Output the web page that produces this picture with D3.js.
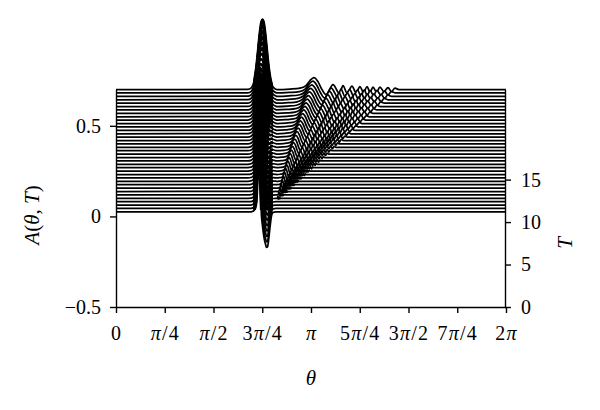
<!DOCTYPE html>
<html>
<head>
<meta charset="utf-8">
<script src="https://cdn.jsdelivr.net/npm/d3@7"></script>
<style>
body{margin:0;background:#fff;}
text{font-family:"Liberation Serif","DejaVu Serif",serif;}
</style>
</head>
<body>
<div id="root"></div>
<script>
// values

// T of every trace, front (bottom) to back (top)
var Tvals=[11.2,11.6,12.0,12.4,12.8,13.2,13.6,14.0,14.4,14.8,15.2,15.6,16.0,16.4,16.8,17.2,17.6,18.0,18.4,18.8,
           19.2,19.6,20.0,20.4,20.8,21.2,21.6,22.0,22.4,22.8,23.2,23.6,24.0,24.4,24.8,25.2,25.6];

// spike near 3pi/4 : theta, A of the front trace and A of the back trace
var spikeTheta=[2.1266,2.1749,2.2072,2.2313,2.2474,2.2636,2.2797,2.2958,2.3119,2.3280,2.3441,2.3602,
                2.3763,2.3924,2.4085,2.4247,2.4408,2.4569,2.4730,2.4891,2.5052,2.5294,2.5777];
var spikeFront=[0,0,0.003,0.011,0.028,0.066,0.193,0.331,0.276,0.110,-0.022,-0.077,
                -0.121,-0.155,-0.177,-0.196,-0.193,-0.160,-0.110,-0.061,-0.022,-0.003,0];
var spikeBack =[0.001,0.008,0.026,0.057,0.090,0.132,0.184,0.240,0.296,0.343,0.375,0.386,
                0.375,0.343,0.296,0.240,0.184,0.132,0.090,0.057,0.035,0.014,0.002];

// ripple train on the back trace (theta, A), it starts at trainStart
var trainStart=2.59;
var trainTheta=[2.803,2.964,3.061,3.126,3.190,3.254,3.319,3.383,3.496,3.601,3.657,3.722,3.802,3.867,3.931,3.988,
                4.044,4.093,4.141,4.197,4.253,4.318,4.382,4.438,4.495,4.559];
var trainA=[0.003,0.008,0.022,0.050,0.066,0.044,0.000,-0.028,0.028,-0.022,0.022,-0.019,0.019,-0.017,0.017,-0.017,
            0.017,-0.014,0.014,-0.014,0.014,-0.011,0.011,-0.011,0.008,0.000];
var trainT0=12.4; // trace where the ripples leave the spike

var thetaTicks=[0,Math.PI/4,Math.PI/2,3*Math.PI/4,Math.PI,5*Math.PI/4,3*Math.PI/2,7*Math.PI/4,2*Math.PI];
var thetaLabels=['0','π/4','π/2','3π/4','π','5π/4','3π/2','7π/4','2π'];
var aTicks=[-0.5,0,0.5];
var aLabels=['−0.5','0','0.5'];
var tTicks=[0,5,10,15];

var W=600,H=410;
var svg=d3.select('#root').append('svg').attr('width',W).attr('height',H);

var x=d3.scaleLinear().domain([0,2*Math.PI]).range([116,506]);
var yA=d3.scaleLinear().domain([-0.5,0.7]).range([307,89.6]);
var yT=d3.scaleLinear().domain([0,25.6]).range([307,89.6]);

var mix=d3.scaleLinear().domain([Tvals[0],Tvals[Tvals.length-1]]).range([0,1]);
var grow=d3.scaleLinear().domain([trainT0,Tvals[Tvals.length-1]]).range([0,1]).clamp(true);

function tracePoints(T){
  var m=mix(T), pts=[[0,0]];
  spikeTheta.forEach(function(th,i){
    pts.push([th,spikeFront[i]+(spikeBack[i]-spikeFront[i])*m]);
  });
  var u=grow(T);
  if(u>0){
    var amp=Math.sqrt(u);
    pts.push([trainStart,0]);
    trainTheta.forEach(function(th,i){
      pts.push([trainStart+(th-trainStart)*u,trainA[i]*amp]);
    });
  }
  pts.push([2*Math.PI,0]);
  return pts;
}

var line=d3.line().curve(d3.curveMonotoneX);
var area=d3.area().curve(d3.curveMonotoneX);

var traces=Tvals.map(function(T){
  var base=yT(T)-yA(0);
  var xy=tracePoints(T).map(function(p){return [x(p[0]),yA(p[1])+base];});
  return xy;
}).reverse(); // back first

// the crowded spike reads as one dark column above the front trace
svg.append('clipPath').attr('id','spikeclip').append('rect')
  .attr('x',x(spikeTheta[2])).attr('y',0)
  .attr('width',x(spikeTheta[21])-x(spikeTheta[2])).attr('height',yT(Tvals[0])-2);

var g=svg.append('g');
traces.forEach(function(xy){
  g.append('path')
    .attr('d',area.x(function(d){return d[0]}).y0(306).y1(function(d){return d[1]})(xy))
    .attr('fill','#fff').attr('stroke','none');
  g.append('path')
    .attr('d',line(xy))
    .attr('fill','none').attr('stroke','#000').attr('stroke-width',1.75);
  g.append('path')
    .attr('d',line(xy)).attr('clip-path','url(#spikeclip)')
    .attr('fill','none').attr('stroke','#000').attr('stroke-width',2.6);
});

function styleAxis(sel){
  sel.selectAll('path,line').attr('stroke','#000').attr('stroke-width',1.4);
  sel.selectAll('text').attr('font-family','"Liberation Serif",serif').attr('font-size',20).attr('fill','#000');
  sel.attr('font-family',null).attr('font-size',null);
}

var gx=svg.append('g').attr('transform','translate(0,307)')
  .call(d3.axisBottom(x).tickValues(thetaTicks).tickSize(6).tickSizeOuter(0).tickPadding(13).tickFormat(function(d,i){return ''}));
styleAxis(gx);
gx.selectAll('.tick text').attr('letter-spacing',1.2).each(function(d,i){
  var t=d3.select(this), parts=thetaLabels[i].split('π');
  parts.forEach(function(s,j){
    if(s) t.append('tspan').text(s);
    if(j<parts.length-1) t.append('tspan').attr('font-style','italic').text('π');
  });
});

var gyl=svg.append('g').attr('transform','translate(116,0)')
  .call(d3.axisLeft(yA).tickValues(aTicks).tickSize(6).tickSizeOuter(0).tickPadding(9).tickFormat(function(d,i){return aLabels[i]}));
styleAxis(gyl);

var gyr=svg.append('g').attr('transform','translate(505,0)')
  .call(d3.axisRight(yT).tickValues(tTicks).tickSize(6).tickSizeOuter(0).tickPadding(10));
styleAxis(gyr);

// axis titles
var lt=svg.append('text').attr('transform','translate(39,215) rotate(-90)').attr('text-anchor','middle').attr('font-size',21);
lt.append('tspan').attr('font-style','italic').text('A');
lt.append('tspan').text('(');
lt.append('tspan').attr('font-style','italic').text('θ');
lt.append('tspan').text(', ');
lt.append('tspan').attr('font-style','italic').text('T');
lt.append('tspan').text(')');

svg.append('text').attr('x',311).attr('y',385).attr('text-anchor','middle').attr('font-size',21)
  .attr('font-style','italic').text('θ');

svg.append('text').attr('transform','translate(572,243) rotate(-90)').attr('text-anchor','middle').attr('font-size',21)
  .attr('font-style','italic').text('T');
</script>
</body>
</html>
